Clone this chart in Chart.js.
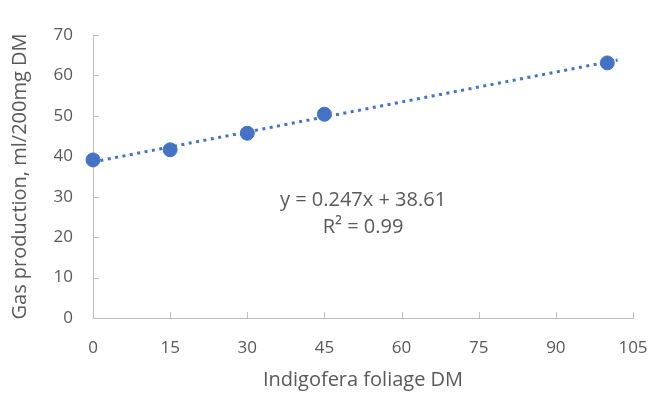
<!DOCTYPE html>
<html>
<head>
<meta charset="utf-8">
<script src="https://cdn.jsdelivr.net/npm/chart.js@4"></script>
<style>
  html, body { margin: 0; padding: 0; background: #fff; }
  #wrap { width: 652px; height: 396px; }
</style>
</head>
<body>
<div id="wrap"><canvas id="gasChart" width="652" height="396"></canvas></div>
<script>
// data
const doseX = [0, 15, 30, 45, 100];
const gasY = [39.1, 41.6, 45.7, 50.4, 63.1];
const trendX = [0, 102];
const trendY = [38.61, 63.8];
const eqLines = ["y = 0.247x + 38.61", "R\u00b2 = 0.99"];

const grey = '#595959';
const axisCol = '#bfbfbf';
const fam = '"Open Sans", Calibri, sans-serif';

// small ticks pointing into the plot, like the original
const innerTicks = {
    id: 'innerTicks',
    beforeDatasetsDraw(chart) {
        const c = chart.ctx, x = chart.scales.x, y = chart.scales.y;
        c.save();
        c.strokeStyle = axisCol;
        c.lineWidth = 1;
        c.beginPath();
        x.ticks.forEach(t => {
            const px = Math.round(x.getPixelForValue(t.value)) + 0.5;
            c.moveTo(px, y.bottom);
            c.lineTo(px, y.bottom - 6);
        });
        y.ticks.forEach(t => {
            const py = Math.round(y.getPixelForValue(t.value)) + 0.5;
            c.moveTo(x.left, py);
            c.lineTo(x.left + 6, py);
        });
        c.stroke();
        // regression text
        c.fillStyle = grey;
        c.font = '20px ' + fam;
        c.textAlign = 'center';
        c.textBaseline = 'middle';
        const tx = x.getPixelForValue(52.5);
        c.fillText(eqLines[0], tx, y.getPixelForValue(29.2));
        c.fillText(eqLines[1], tx, y.getPixelForValue(22.5));
        c.restore();
    }
};

const ctx = document.getElementById('gasChart');
new Chart(ctx, {
    type: 'scatter',
    data: {
        datasets: [{
            data: doseX.map((v, i) => ({x: v, y: gasY[i]})),
            backgroundColor: '#4472C4',
            borderColor: '#4472C4',
            pointRadius: 7,
            clip: false,
            order: 1
        }, {
            type: 'line',
            data: trendX.map((v, i) => ({x: v, y: trendY[i]})),
            borderColor: '#4472C4',
            borderWidth: 3,
            borderDash: [3, 4.5],
            pointRadius: 0,
            fill: false,
            clip: false,
            order: 2
        }]
    },
    plugins: [innerTicks],
    options: {
        responsive: false,
        animation: false,
        layout: { padding: { top: 35, right: 19, left: 0, bottom: 0 } },
        plugins: { legend: { display: false }, tooltip: { enabled: false } },
        scales: {
            x: {
                type: 'linear',
                min: 0, max: 105,
                afterFit(s) { s.height = 78; s.paddingLeft = 0; s.paddingRight = 0; },
                grid: { display: false, drawTicks: false },
                border: { color: axisCol, width: 1 },
                ticks: { stepSize: 15, color: grey, padding: 20, font: { size: 17, family: fam } },
                title: { display: true, text: 'Indigofera foliage DM', color: grey, padding: { top: 2 }, font: { size: 20, family: fam } }
            },
            y: {
                min: 0, max: 70,
                afterFit(s) { s.width = 93; s.paddingTop = 0; s.paddingBottom = 0; },
                grid: { display: false, drawTicks: false },
                border: { color: axisCol, width: 1 },
                ticks: { stepSize: 10, color: grey, padding: 20, font: { size: 17, family: fam } },
                title: { display: true, text: 'Gas production, ml/200mg DM', color: grey, padding: { top: 8, bottom: 0 }, font: { size: 20, family: fam } }
            }
        }
    }
});
</script>
</body>
</html>
